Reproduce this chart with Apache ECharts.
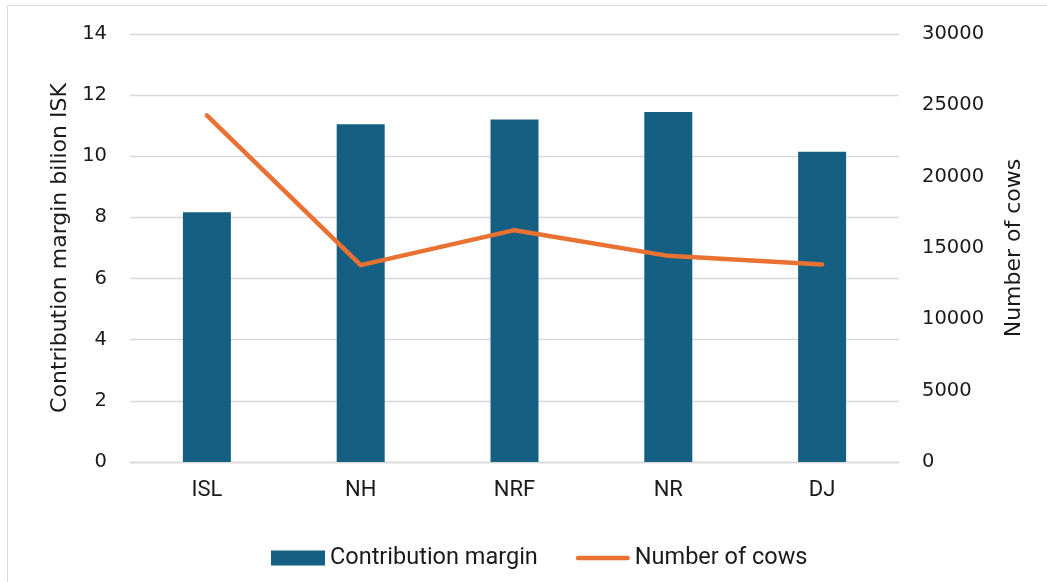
<!DOCTYPE html>
<html>
<head>
<meta charset="utf-8">
<script src="https://cdn.jsdelivr.net/npm/echarts@6/dist/echarts.min.js"></script>
<style>
  html, body { margin: 0; padding: 0; background: #fff; }
  #frame { position: absolute; left: 7px; top: 5px; width: 1100px; height: 640px;
           border-left: 1px solid #d9d9d9; border-top: 1px solid #d9d9d9; }
  #chart { position: absolute; left: 0; top: 0; width: 1047px; height: 582px; }
</style>
</head>
<body>
<div id="frame"></div>
<div id="chart"></div>
<script>
// breeds on the x axis
var categories = ['ISL', 'NH', 'NRF', 'NR', 'DJ'];

// contribution margin, bilion ISK (left axis)
var contributionMargin = [8.17, 11.05, 11.2, 11.45, 10.15];

// number of cows (right axis)
var numberOfCows = [24300, 13800, 16250, 14450, 13850];

var leftTicks = { min: 0, max: 14, interval: 2 };
var rightTicks = { min: 0, max: 30000, interval: 5000 };

var textColor = '#1a1a1a';
var gridColor = '#d9d9d9';

// thin rounded bar used as the legend mark of the line (legend keeps aspect)
var lineIcon = 'path://M2.25,0 H51.75 A2.25,2.25 0 0 1 51.75,4.5 H2.25 A2.25,2.25 0 0 1 2.25,0 Z';

var myChart = echarts.init(document.getElementById('chart'));

var option = {
    animation: false,
    grid: { left: 130, right: 148, top: 34, bottom: 120 },
    legend: {
        top: 541,
        left: 266,
        itemWidth: 54,
        itemHeight: 15,
        itemGap: 38,
        textStyle: { fontFamily: 'Roboto', fontSize: 23.5, color: textColor },
        data: [
            { name: 'Contribution margin', icon: 'rect' },
            { name: 'Number of cows', icon: lineIcon }
        ]
    },
    xAxis: {
        type: 'category',
        data: categories,
        axisLine: { lineStyle: { color: gridColor, width: 1.3 } },
        axisTick: { show: false },
        axisLabel: { fontFamily: 'Roboto', fontSize: 22, color: textColor, margin: 17 }
    },
    yAxis: [
        {
            type: 'value',
            min: leftTicks.min,
            max: leftTicks.max,
            interval: leftTicks.interval,
            name: 'Contribution margin bilion ISK',
            nameLocation: 'middle',
            nameGap: 54,
            nameTextStyle: { fontFamily: 'DejaVu Sans', fontSize: 22, color: textColor },
            axisLine: { show: false },
            axisTick: { show: false },
            axisLabel: { fontFamily: 'DejaVu Sans', fontSize: 19.5, color: textColor, margin: 23 },
            splitLine: { lineStyle: { color: gridColor, width: 1.3 } }
        },
        {
            type: 'value',
            min: rightTicks.min,
            max: rightTicks.max,
            interval: rightTicks.interval,
            name: 'Number of cows',
            nameLocation: 'middle',
            nameGap: 104,
            nameTextStyle: { fontFamily: 'DejaVu Sans', fontSize: 22, color: textColor },
            axisLine: { show: false },
            axisTick: { show: false },
            axisLabel: {
                fontFamily: 'DejaVu Sans', fontSize: 19.5, color: textColor, margin: 23,
                formatter: function (v) { return String(v); }
            },
            splitLine: { show: false }
        }
    ],
    series: [
        {
            name: 'Contribution margin',
            type: 'bar',
            yAxisIndex: 0,
            barWidth: 48,
            itemStyle: { color: '#156082' },
            data: contributionMargin
        },
        {
            name: 'Number of cows',
            type: 'line',
            yAxisIndex: 1,
            symbol: 'none',
            lineStyle: { color: '#E97132', width: 4.5, cap: 'round', join: 'round' },
            itemStyle: { color: '#E97132' },
            data: numberOfCows
        }
    ]
};

myChart.setOption(option);
</script>
</body>
</html>
